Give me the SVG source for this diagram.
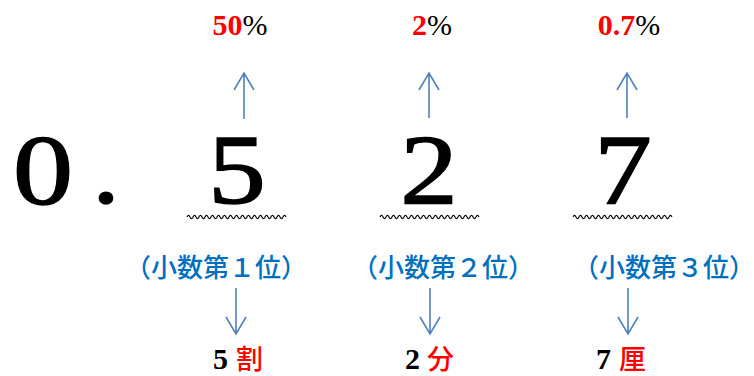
<svg xmlns="http://www.w3.org/2000/svg" xmlns:xlink="http://www.w3.org/1999/xlink" width="754" height="376" viewBox="0 0 754 376">
<defs>
<style>
.big{font-family:"Liberation Serif",serif;font-size:100px;fill:#000;stroke:#000;stroke-width:1.6;text-anchor:middle}
.pct{font-family:"Liberation Serif",serif;font-size:30px;text-anchor:middle}
.red{fill:#ff0000}
.blk{fill:#000}
.place{font-family:"Noto Sans CJK JP",sans-serif;font-weight:500;font-size:26px;fill:#0070c0;text-anchor:middle}
.num{font-family:"Liberation Serif",serif;font-weight:bold;font-size:30px;fill:#000}
.unit{font-family:"Noto Sans CJK JP",sans-serif;font-weight:500;font-size:27px;fill:#ff0000}
.arrow{fill:none;stroke:#4f81bd;stroke-width:1.6}
.wave{fill:none;stroke:#000;stroke-width:1.1}
</style>
<path id="wave" class="wave" d="M0,0 q1.5,-3.2 3,0 t3,0 t3,0 t3,0 t3,0 t3,0 t3,0 t3,0 t3,0 t3,0 t3,0 t3,0 t3,0 t3,0 t3,0 t3,0 t3,0 t3,0 t3,0 t3,0 t3,0 t3,0 t3,0 t3,0 t3,0 t3,0 t3,0 t3,0 t3,0 t3,0 t3,0 t3,0 t3,0"/>
</defs>
<rect width="754" height="376" fill="#fff"/>
<g id="zero"><text class="big" transform="translate(43,203) scale(1.2,1)">0</text></g>
<g id="point"><text class="big" transform="translate(106,203) scale(1.1,1)">.</text></g>
<g id="digit1">
<text class="big" transform="translate(237,203) scale(1.15,1)">5</text>
<use xlink:href="#wave" x="187" y="217"/>
<text class="pct" x="240" y="35"><tspan font-weight="bold" class="red">50</tspan><tspan class="blk">%</tspan></text>
<text class="place" x="216" y="277">（小数第１位）</text>
<text x="213" y="369"><tspan class="num">5</tspan><tspan class="unit" x="236">割</tspan></text>
</g>
<g id="digit2">
<text class="big" transform="translate(429,203) scale(1.15,1)">2</text>
<use xlink:href="#wave" x="380" y="217"/>
<text class="pct" x="432" y="35"><tspan font-weight="bold" class="red">2</tspan><tspan class="blk">%</tspan></text>
<text class="place" x="443" y="277">（小数第２位）</text>
<text x="405" y="369"><tspan class="num">2</tspan><tspan class="unit" x="427">分</tspan></text>
</g>
<g id="digit3">
<text class="big" transform="translate(623,203) scale(1.15,1)">7</text>
<use xlink:href="#wave" x="573" y="217"/>
<text class="pct" x="629" y="35"><tspan font-weight="bold" class="red">0.7</tspan><tspan class="blk">%</tspan></text>
<text class="place" x="664" y="277">（小数第３位）</text>
<text x="596" y="369"><tspan class="num">7</tspan><tspan class="unit" x="619">厘</tspan></text>
</g>
<g id="connectors">
<path class="arrow" d="M244,119 V73 M234,90 L244,73 L254,90"/>
<path class="arrow" d="M429,118 V73 M419,90 L429,73 L439,90"/>
<path class="arrow" d="M627,118 V73 M617,90 L627,73 L637,90"/>
<path class="arrow" d="M236,288 V334 M226,317 L236,334 L246,317"/>
<path class="arrow" d="M430,288 V334 M420,317 L430,334 L440,317"/>
<path class="arrow" d="M628,288 V334 M618,317 L628,334 L638,317"/>
</g>
</svg>
